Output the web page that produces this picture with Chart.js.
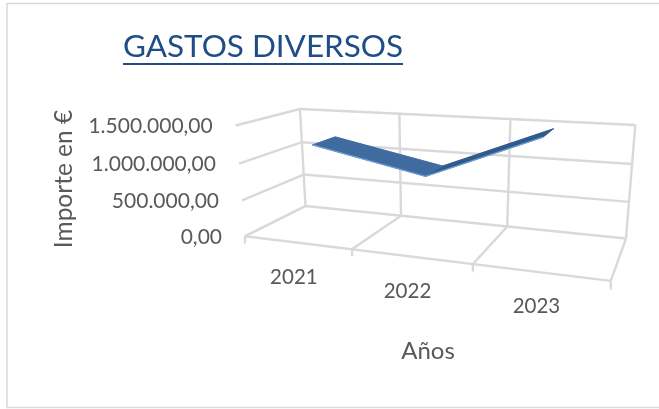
<!DOCTYPE html>
<html>
<head>
<meta charset="utf-8">
<style>
html,body{margin:0;padding:0;background:#fff}
#wrap{width:659px;height:409px;position:relative}
</style>
</head>
<body>
<div id="wrap"><canvas id="chart-0" width="659" height="409"></canvas></div>
<script src="https://cdn.jsdelivr.net/npm/chart.js@4"></script>
<script>
var categories = ["2021", "2022", "2023"];
var gastos = [1200000, 895000, 1475000];
var yTicks = [0, 500000, 1000000, 1500000];
var yTickLabels = ["0,00", "500.000,00", "1.000.000,00", "1.500.000,00"];

// plot box in the page, the y axis runs from bottom to top of it
var areaLeft = 232, areaRight = 624, areaTop = 123, areaBottom = 235;
var pxPerValue = 110 / 1500000;
var textColor = "#595959", gridColor = "#d9d9d9";

// perspective of the excel 3d box: u along years, v height, d depth (0 back, 1 front)
function project(u, v, d) {
    var w = 1 - 0.151 * u - 0.04 * v - 0.13 * d;
    var x = (305.5 + 225.97 * u - 17.5 * v - 92.35 * d) / w;
    var y = (206 - 3.51 * u - 101.36 * v - 0.5 * d) / w;
    return {x: x, y: (areaBottom - y) / pxPerValue};
}

// where the ribbon sits in each year's band, and how deep
var ribbonU = [0.167, 0.5, 0.805];
var ribbonBack = 0.27, ribbonFront = 0.67;

function ribbonPoint(i, d) {
    return project(ribbonU[i], gastos[i] / yTicks[yTicks.length - 1], d);
}

function face(i, color, edge) {
    return {
        data: [ribbonPoint(i, ribbonFront), ribbonPoint(i, ribbonBack),
               ribbonPoint(i + 1, ribbonBack), ribbonPoint(i + 1, ribbonFront),
               ribbonPoint(i, ribbonFront)],
        showLine: true, fill: "shape", backgroundColor: color, borderColor: edge, borderWidth: 1,
        pointRadius: 0, tension: 0, clip: false
    };
}

function wall(a, b) {
    return {
        data: [a, b], showLine: true, fill: false, borderColor: gridColor, borderWidth: 2.4,
        pointRadius: 0, clip: false
    };
}

// light rim along the front edge of the ribbon, then the two faces
var datasets = [{
    data: gastos.map(function (g, i) { return ribbonPoint(i, ribbonFront); }),
    showLine: true, fill: false, borderColor: "#6f9fd8", borderWidth: 1.2,
    pointRadius: 0, tension: 0, clip: false
}, face(0, "#3f6b9f", "#3f6b9f"), face(1, "#2f5a8c", "#2f5a8c")];

yTicks.forEach(function (t, i) {
    var v = t / yTicks[yTicks.length - 1];
    datasets.push(wall(project(0, v, 0), project(1, v, 0)));
    datasets.push(wall(project(0, v, 1), project(0, v, 0)));
});
categories.concat([""]).forEach(function (c, i) {
    var u = i / categories.length;
    datasets.push(wall(project(u, 0, 0), project(u, 1, 0)));
    datasets.push(wall(project(u, -0.06, 1), project(u, 0, 1)));
    datasets.push(wall(project(u, 0, 1), project(u, 0, 0)));
});
datasets.push(wall(project(0, 0, 1), project(1, 0, 1)));

var boxExtras = {
    id: "boxExtras",
    afterLayout: function (chart) {
        chart.titleBlock.left = 123;
        chart.titleBlock.right = 403;
        // the y labels follow the slanted left wall
        var xs = chart.scales.x, ys = chart.scales.y;
        ys.getLabelItems(chart.chartArea).forEach(function (item, i) {
            var p = project(0, yTicks[i] / yTicks[yTicks.length - 1], 1);
            item.options.translation[0] = xs.getPixelForValue(p.x) - 23;
            item.options.translation[1] = ys.getPixelForValue(p.y) + 1;
        });
    },
    beforeDraw: function (chart) {
        var ctx = chart.ctx;
        ctx.save();
        ctx.strokeStyle = gridColor;
        ctx.lineWidth = 1.5;
        ctx.strokeRect(7, 3.5, 700, 404);
        ctx.restore();
    },
    afterDraw: function (chart) {
        var ctx = chart.ctx, xs = chart.scales.x, ys = chart.scales.y;
        ctx.save();
        ctx.fillStyle = "#1f4e87";
        ctx.fillRect(123, 63, 280, 2);
        ctx.fillStyle = textColor;
        ctx.font = "20.5px Lato";
        ctx.textAlign = "center";
        ctx.textBaseline = "middle";
        categories.forEach(function (c, i) {
            var p = project((i + 0.5) / categories.length, 0, 1);
            ctx.fillText(c, xs.getPixelForValue(p.x) - 3, ys.getPixelForValue(p.y) + 34.5);
        });
        ctx.restore();
    }
};

new Chart(document.getElementById("chart-0"), {
    type: "scatter",
    data: {datasets: datasets},
    plugins: [boxExtras],
    options: {
        responsive: false,
        animation: false,
        layout: {padding: {left: 0, right: 659 - areaRight, top: 0, bottom: 39}},
        plugins: {
            legend: {display: false},
            tooltip: {enabled: false},
            title: {
                display: true,
                text: "GASTOS DIVERSOS",
                color: "#1f4e87",
                font: {family: "Lato", size: 31.5, weight: "normal"},
                padding: {top: 28, bottom: 57.2}
            }
        },
        scales: {
            x: {
                type: "linear", min: areaLeft, max: areaRight,
                grid: {display: false, drawTicks: false}, border: {display: false},
                ticks: {display: false},
                title: {display: true, text: "Años", color: textColor, font: {family: "Lato", size: 24}, padding: 4},
                afterFit: function (s) { s.height = 135; }
            },
            y: {
                min: 0, max: (areaBottom - areaTop) / pxPerValue,
                afterBuildTicks: function (s) {
                    s.ticks = yTicks.map(function (t) { return {value: t}; });
                },
                grid: {display: false, drawTicks: false}, border: {display: false},
                ticks: {
                    color: textColor, font: {family: "Lato", size: 21}, padding: 12,
                    callback: function (v) { return yTickLabels[yTicks.indexOf(v)]; }
                },
                title: {display: true, text: "Importe en €", color: textColor, font: {family: "Lato", size: 24.5}, padding: 49},
                afterFit: function (s) { s.width = areaLeft; }
            }
        }
    }
});
</script>
</body>
</html>
